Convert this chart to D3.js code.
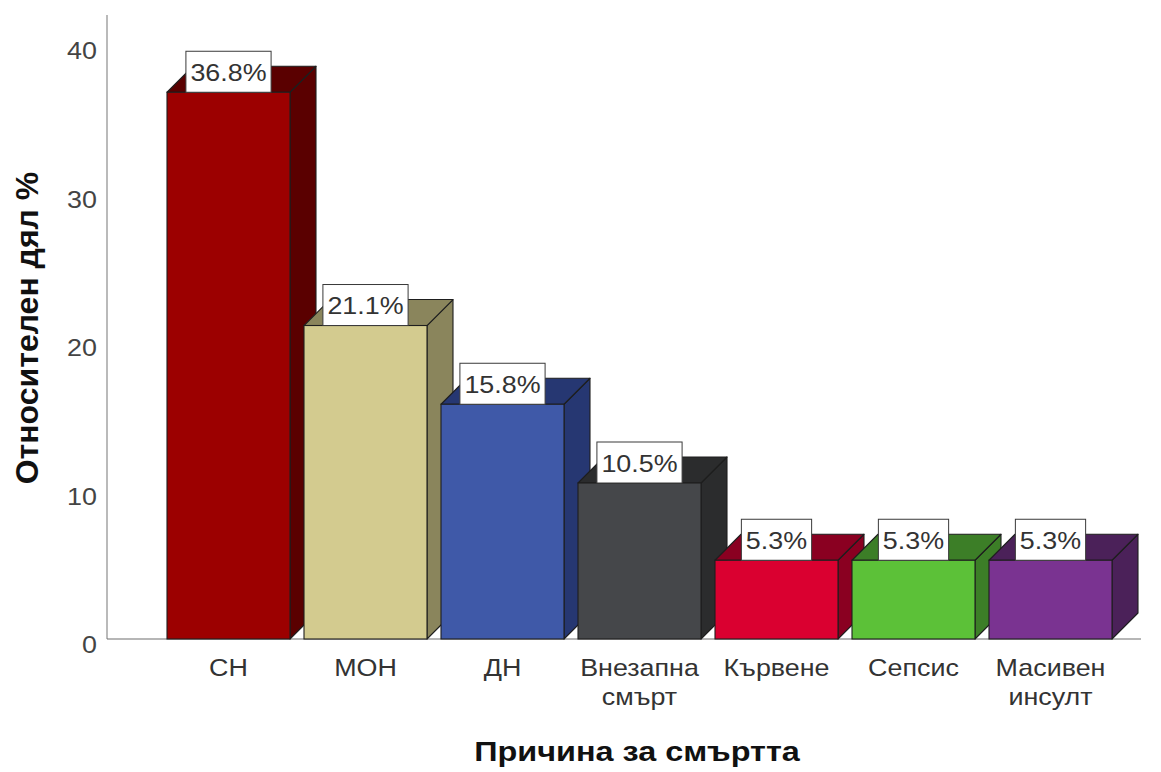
<!DOCTYPE html>
<html>
<head>
<meta charset="utf-8">
<script src="https://cdn.jsdelivr.net/npm/d3@7"></script>
<style>
  html, body { margin: 0; padding: 0; background: #ffffff; }
  svg { display: block; }
  text { font-family: "Liberation Sans", Arial, sans-serif; }
</style>
</head>
<body>
<svg id="chart" width="1161" height="772"></svg>
<script>
// Cause of death: relative share (%)
const categories = ["СН", "МОН", "ДН", "Внезапна смърт", "Кървене", "Сепсис", "Масивен инсулт"];
const shares = [36.8, 21.1, 15.8, 10.5, 5.3, 5.3, 5.3];
const yTicks = [0, 10, 20, 30, 40];
const yTitle = "Относителен дял %";
const xTitle = "Причина за смъртта";

// front face / top-and-side face colours per bar
const frontColors = ["#9c0000", "#d3cb8f", "#3f59a8", "#45474a", "#da0030", "#5cc138", "#7a3391"];
const depthColors = ["#5a0000", "#8a855c", "#263772", "#2b2c2d", "#8a0021", "#3c7e27", "#4b2159"];

const depth = 26;          // 3D extrusion offset
const stretch = 1.12;      // horizontal widening of the label glyphs

const svg = d3.select("#chart");

const x = d3.scaleBand()
  .domain(categories)
  .range([160, 1119])
  .paddingInner(14 / 137)
  .paddingOuter(7 / 137);

const y = d3.scaleLinear().domain([0, 42]).range([639, 15]);

// axis lines
svg.append("line")
  .attr("x1", 107).attr("x2", 107)
  .attr("y1", y(42)).attr("y2", y(0))
  .attr("stroke", "#8c8c8c").attr("stroke-width", 1.2);
svg.append("line")
  .attr("x1", 107).attr("x2", 1141)
  .attr("y1", y(0)).attr("y2", y(0))
  .attr("stroke", "#6e6e6e").attr("stroke-width", 1.2);

// y tick labels
svg.append("g").selectAll("text")
  .data(yTicks)
  .join("text")
  .attr("transform", d => `translate(97,${y(d) + 6}) scale(${stretch},1)`)
  .attr("text-anchor", "end")
  .attr("dominant-baseline", "central")
  .attr("font-size", 24)
  .attr("fill", "#444")
  .text(d => d);

// 3D bars, left to right so each bar sits over its neighbour's side face
const data = categories.map((c, i) => ({ cat: c, v: shares[i], i }));
const bars = svg.append("g").selectAll("g.bar")
  .data(data)
  .join("g")
  .attr("class", "bar");

bars.each(function (d) {
  const g = d3.select(this);
  const x0 = x(d.cat), x1 = x0 + x.bandwidth();
  const yt = y(d.v), yb = y(0);
  const stroke = "#1e1e1e";
  // side face
  g.append("path")
    .attr("d", `M${x1},${yt} L${x1 + depth},${yt - depth} L${x1 + depth},${yb - depth} L${x1},${yb} Z`)
    .attr("fill", depthColors[d.i]).attr("stroke", stroke).attr("stroke-width", 1.1)
    .attr("stroke-linejoin", "round");
  // top face
  g.append("path")
    .attr("d", `M${x0},${yt} L${x0 + depth},${yt - depth} L${x1 + depth},${yt - depth} L${x1},${yt} Z`)
    .attr("fill", depthColors[d.i]).attr("stroke", stroke).attr("stroke-width", 1.1)
    .attr("stroke-linejoin", "round");
  // front face
  g.append("rect")
    .attr("x", x0).attr("y", yt)
    .attr("width", x.bandwidth()).attr("height", yb - yt)
    .attr("fill", frontColors[d.i]).attr("stroke", stroke).attr("stroke-width", 1.1);
});

// value labels in white boxes resting on each bar's front top edge
const labels = svg.append("g").selectAll("g.lbl")
  .data(data)
  .join("g")
  .attr("class", "lbl");

labels.each(function (d) {
  const g = d3.select(this);
  const cx = x(d.cat) + x.bandwidth() / 2;
  const yt = y(d.v);
  const boxH = 41;
  const rect = g.append("rect");
  const t = g.append("text")
    .attr("transform", `translate(${cx},${yt - boxH / 2 + 1}) scale(${stretch},1)`)
    .attr("text-anchor", "middle")
    .attr("dominant-baseline", "central")
    .attr("font-size", 24)
    .attr("fill", "#333")
    .text(d.v.toFixed(1) + "%");
  const tw = t.node().getComputedTextLength() * stretch;
  const bw = tw + 9;
  rect.attr("x", cx - bw / 2).attr("y", yt - boxH)
    .attr("width", bw).attr("height", boxH)
    .attr("fill", "#ffffff").attr("stroke", "#3a3a3a").attr("stroke-width", 1);
});

// category labels (multi-word names wrap onto two lines)
const catLabels = svg.append("g").selectAll("text")
  .data(categories)
  .join("text")
  .attr("transform", d => `translate(${x(d) + x.bandwidth() / 2},676) scale(${stretch},1)`)
  .attr("text-anchor", "middle")
  .attr("font-size", 24)
  .attr("fill", "#333");
catLabels.each(function (d) {
  const words = d.split(" ");
  d3.select(this).selectAll("tspan")
    .data(words)
    .join("tspan")
    .attr("x", 0)
    .attr("dy", (w, j) => j === 0 ? 0 : 29)
    .text(w => w);
});

// axis titles
svg.append("text")
  .attr("transform", `translate(637,761) scale(1.2,1)`)
  .attr("text-anchor", "middle")
  .attr("font-size", 27)
  .attr("font-weight", "bold")
  .attr("fill", "#111")
  .text(xTitle);

svg.append("text")
  .attr("transform", `translate(38,328) rotate(-90)`)
  .attr("text-anchor", "middle")
  .attr("font-size", 32)
  .attr("font-weight", "bold")
  .attr("fill", "#111")
  .text(yTitle);
</script>
</body>
</html>
